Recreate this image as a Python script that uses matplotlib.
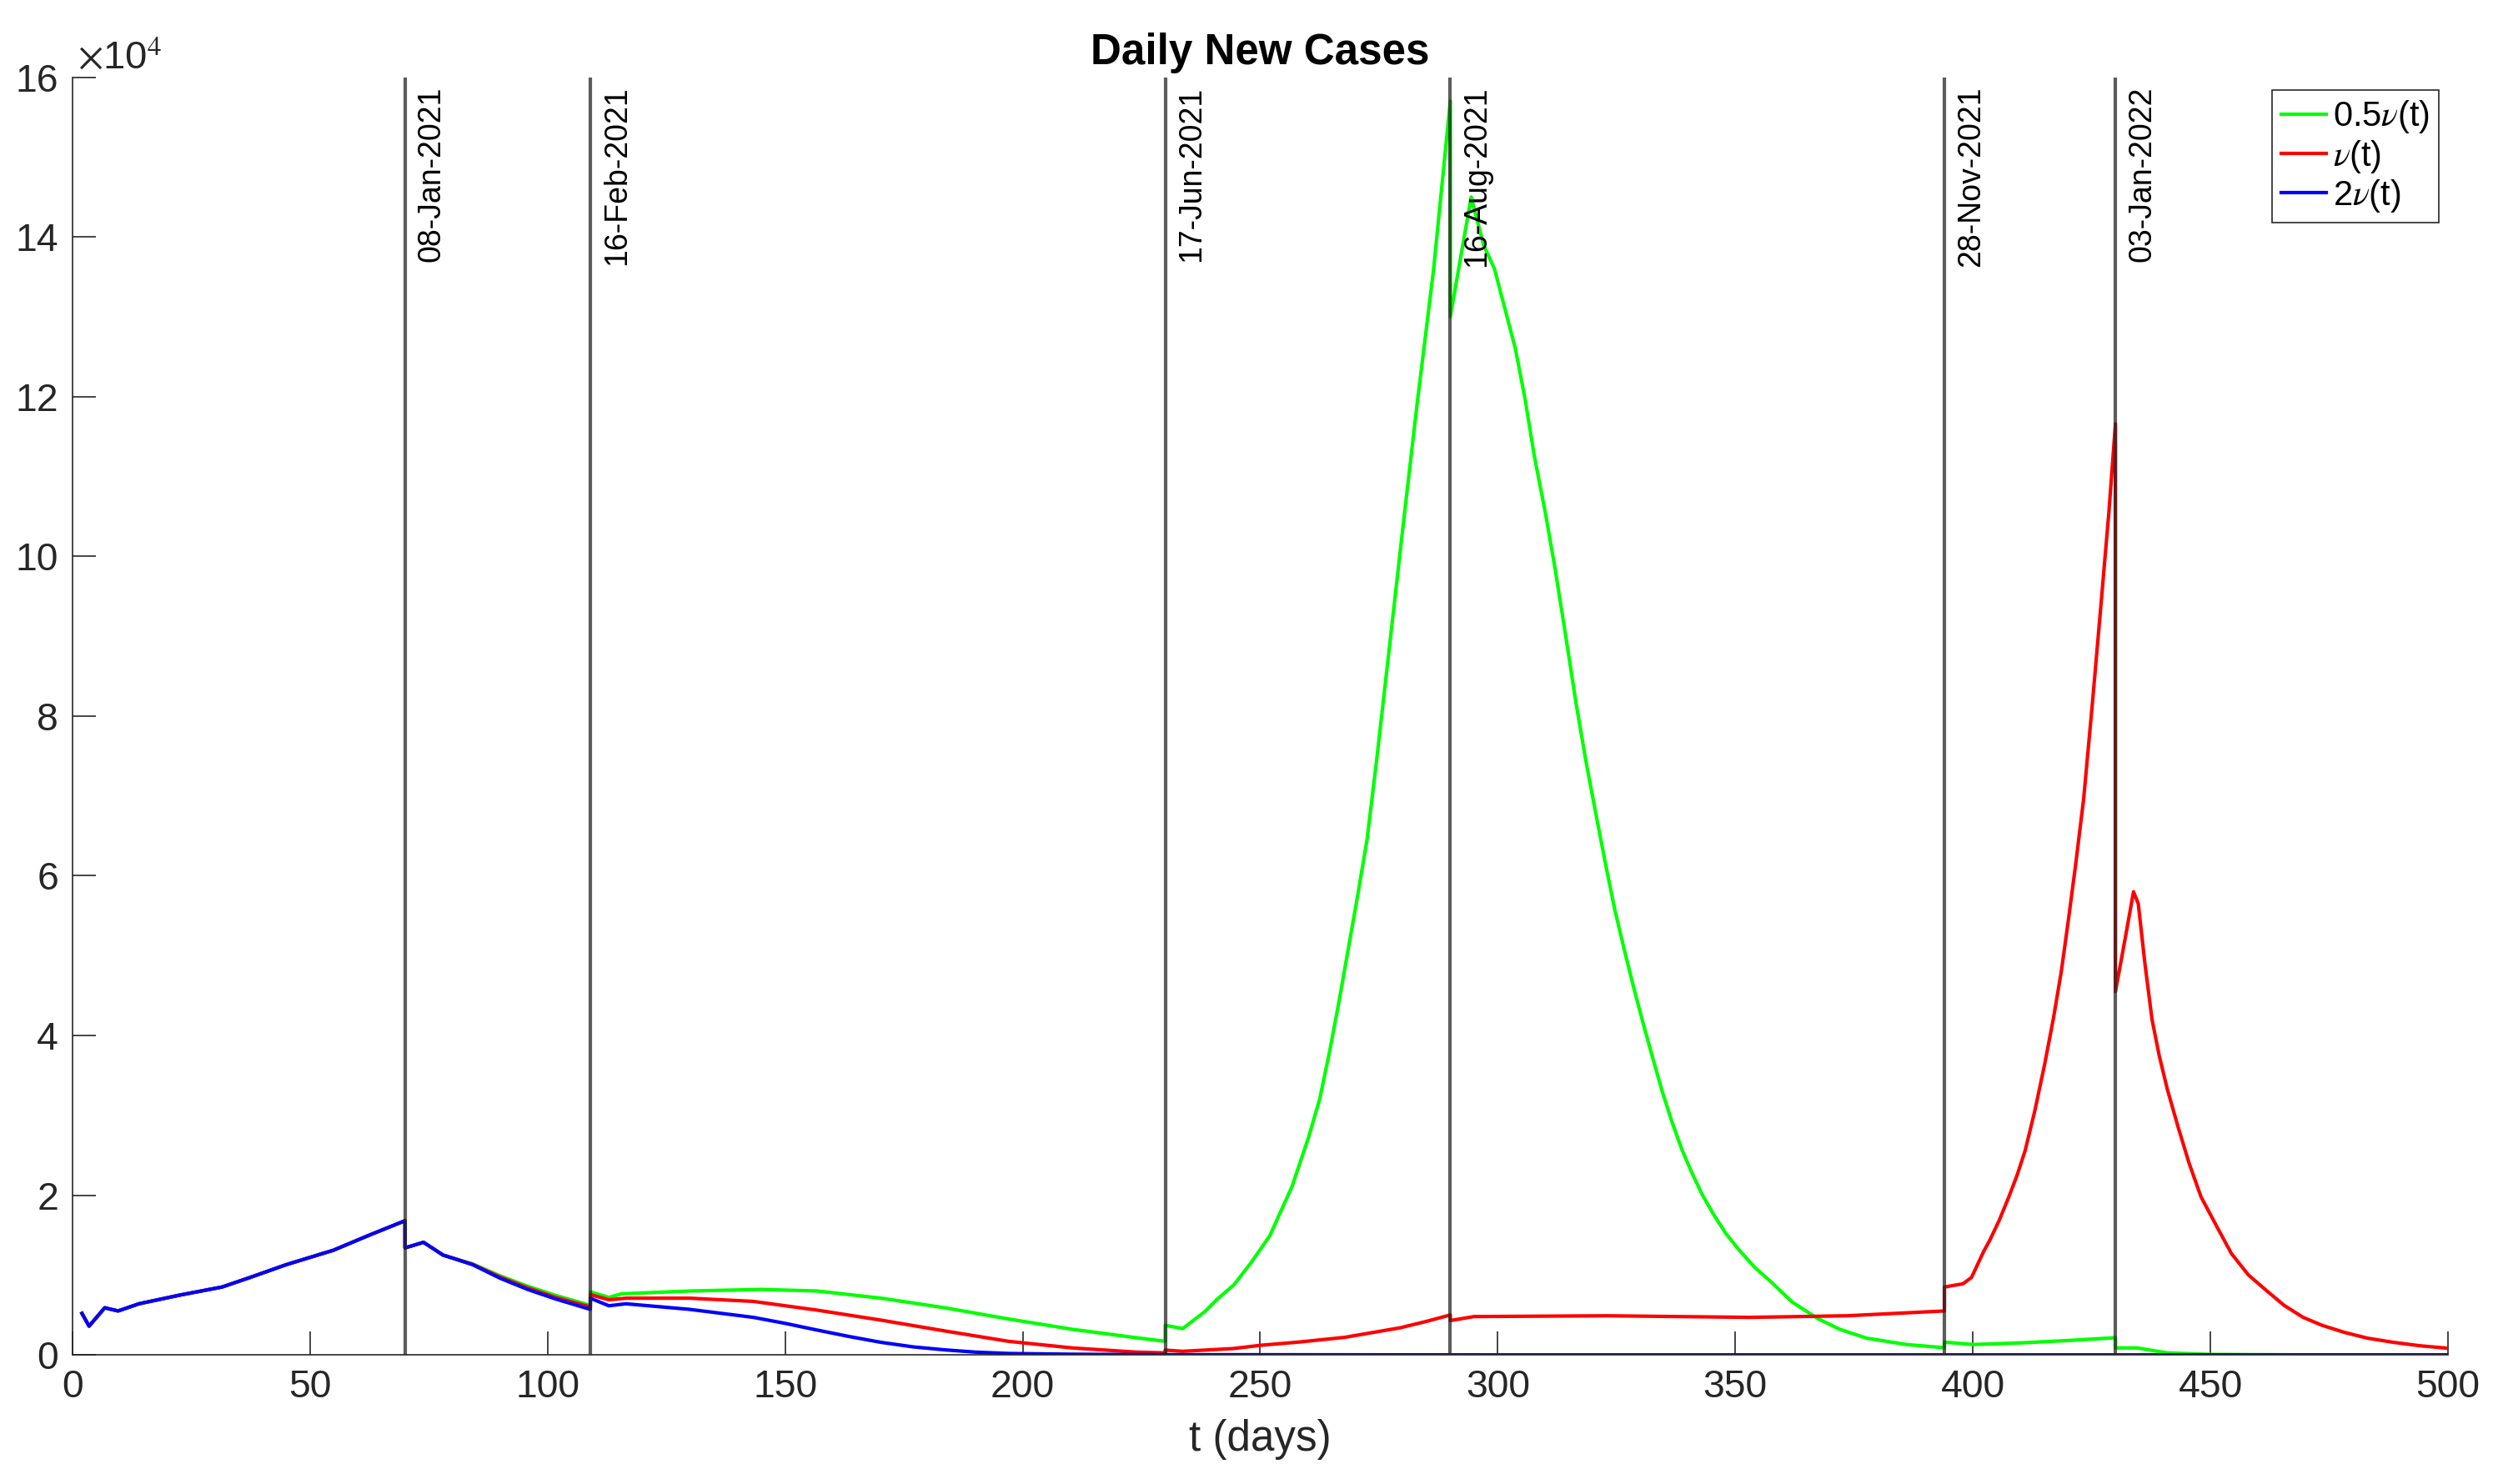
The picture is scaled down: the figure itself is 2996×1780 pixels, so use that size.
import matplotlib
matplotlib.use("Agg")
import matplotlib.pyplot as plt

plt.rcParams['font.family'] = ['Liberation Sans', 'DejaVu Sans']
plt.rcParams['mathtext.fontset'] = 'stix'

# values in units of 1e4 daily cases
days_shared = [2, 3.5, 6.8, 9.6, 14, 22.7, 31.5, 37.4, 45, 54.9, 62.5, 70, 70, 73.9, 78]
cases_shared = [0.52, 0.36, 0.59, 0.55, 0.64, 0.75, 0.85, 0.97, 1.13, 1.31, 1.50, 1.68, 1.34, 1.41, 1.25]

days_half = [84.2, 90, 95.8, 101.7, 109, 109, 112.9, 115.6, 129.9, 145, 156.8, 170.2, 183.6,
             197, 210.5, 223.9, 230, 230, 233.7, 238.3, 241, 244.5, 248, 252, 256.7, 260.2,
             262.5, 264.6, 266.5, 268.4, 270.5, 272.5, 274.5, 276.5, 278.3, 280.1, 283, 286.5,
             290, 290, 294.4, 297, 299.3, 303.7, 305.8, 307.7, 310, 312.1, 314.3, 316.5, 318.5,
             320.5, 322.5, 324.6, 326.6, 328.6, 330.6, 332.6, 334.6, 336.7, 338.7, 340.7, 343,
             345.4, 348, 350.7, 354, 357.4, 362, 367.5, 372, 377.6, 386, 394, 394, 400, 410,
             420, 430, 430, 434.6, 440.9, 450, 470, 500]
cases_half = [1.14, 0.99, 0.86, 0.745, 0.62, 0.79, 0.72, 0.765, 0.80, 0.82, 0.80, 0.71, 0.59,
              0.45, 0.32, 0.215, 0.17, 0.37, 0.33, 0.54, 0.7, 0.88, 1.15, 1.49, 2.11, 2.73,
              3.2, 3.80, 4.4, 5.04, 5.75, 6.46, 7.45, 8.5, 9.45, 10.4, 11.9, 13.6,
              15.7, 13.0, 14.5, 13.9, 13.6, 12.6, 11.95, 11.25, 10.55, 9.83, 9.0, 8.15, 7.45,
              6.82, 6.2, 5.58, 5.08, 4.6, 4.15, 3.72, 3.3, 2.91, 2.58, 2.3, 2.01,
              1.76, 1.52, 1.32, 1.1, 0.92, 0.66, 0.45, 0.32, 0.21, 0.13, 0.09, 0.16, 0.13, 0.15,
              0.18, 0.215, 0.087, 0.087, 0.025, 0.006, 0.0, 0.0]

days_one = [84.2, 90, 95.8, 101.7, 109, 109, 112.9, 116.5, 129.9, 143.3, 156.8, 170.2, 183.6,
            197, 210.5, 223.9, 230, 230, 233.7, 244.4, 250, 258, 267.8, 279.5, 285, 290, 290,
            295, 323, 353, 373.5, 394, 394, 397.9, 399.7, 402.3, 403.5, 405.5, 407.5, 409.3,
            411, 413, 415.1, 416.9, 418.6, 420.1, 421.6, 423.3, 425.1, 426.8, 428.6, 430, 430,
            432, 433.8, 434.8, 436.2, 437.7, 439.2, 440.9, 443.2, 445.5, 448, 451.4, 454.4,
            458, 461.9, 465.5, 469.5, 473.5, 478.3, 483, 488.2, 494, 500]
cases_one = [1.135, 0.975, 0.84, 0.72, 0.60, 0.755, 0.69, 0.71, 0.71, 0.67, 0.56, 0.435, 0.30,
             0.17, 0.087, 0.035, 0.025, 0.06, 0.045, 0.08, 0.12, 0.16, 0.22, 0.34, 0.42, 0.50, 0.43,
             0.48, 0.49, 0.47, 0.49, 0.55, 0.85, 0.89, 0.97, 1.30, 1.43, 1.68, 1.97, 2.25,
             2.56, 3.05, 3.64, 4.2, 4.8, 5.45, 6.13, 6.96, 8.13, 9.29, 10.54, 11.66, 4.55,
             5.2, 5.8, 5.65, 4.9, 4.2, 3.75, 3.33, 2.85, 2.4, 1.98, 1.6, 1.27,
             1.0, 0.8, 0.62, 0.47, 0.37, 0.28, 0.21, 0.16, 0.115, 0.083]

days_double = [84.2, 90, 95.8, 101.7, 109, 109, 112.9, 116.5, 129.9, 143.3, 150, 156.8, 163.5,
               170.2, 177, 183.6, 190, 197, 210.5, 230, 300, 500]
cases_double = [1.13, 0.96, 0.82, 0.70, 0.57, 0.71, 0.615, 0.64, 0.57, 0.47, 0.395, 0.31, 0.23,
                0.157, 0.1, 0.063, 0.035, 0.018, 0.008, 0.003, 0.0, 0.0]

event_days = [70, 109, 230, 290, 394, 430]
event_labels = ['08-Jan-2021', '16-Feb-2021', '17-Jun-2021', '16-Aug-2021', '28-Nov-2021', '03-Jan-2022']

fig = plt.figure(figsize=(14.98, 8.9), dpi=200)
ax = fig.add_axes([0.029, 0.087, 0.951, 0.861])

ax.plot(days_shared + days_half, cases_shared + cases_half, color='#00ff00', lw=1.5, label='0.5$\\nu$(t)')
ax.plot(days_shared + days_one, cases_shared + cases_one, color='#ff0000', lw=1.5, label='$\\nu$(t)')
ax.plot(days_shared + days_double, cases_shared + cases_double, color='#0000ff', lw=1.5, label='2$\\nu$(t)')

for d, lab in zip(event_days, event_labels):
    ax.axvline(d, color='#262626', alpha=0.75, lw=1.5, zorder=3)
    ax.annotate(lab, xy=(d, 16), xytext=(5, -4), textcoords='offset points',
                rotation=90, ha='left', va='top', fontsize=13.5, color='black')

ax.set_xlim(0, 500)
ax.set_ylim(0, 16)
ax.set_xticks(range(0, 501, 50))
ax.set_yticks(range(0, 17, 2))
ax.tick_params(direction='in', length=10, width=0.6, colors='#262626', labelsize=16.7, pad=6)
for s in ['top', 'right']:
    ax.spines[s].set_visible(False)
for s in ['left', 'bottom']:
    ax.spines[s].set_color('#262626')
    ax.spines[s].set_linewidth(0.6)

ax.text(0.002, 1.0, '$\\times$10$^{4}$', transform=ax.transAxes, ha='left', va='bottom',
        fontsize=17, color='#262626')
ax.set_title('Daily New Cases', fontsize=18.4, fontweight='bold', pad=5.5)
ax.set_xlabel('t (days)', fontsize=18.4, color='#262626', labelpad=6)

leg = ax.legend(loc='upper right', bbox_to_anchor=(0.996, 0.99), fontsize=15, fancybox=False,
                framealpha=1, edgecolor='#262626', handlelength=1.3, handletextpad=0.2,
                labelspacing=0.08, borderpad=0.25, borderaxespad=0)
leg.get_frame().set_linewidth(0.6)

fig.savefig('out.png', dpi=200)
